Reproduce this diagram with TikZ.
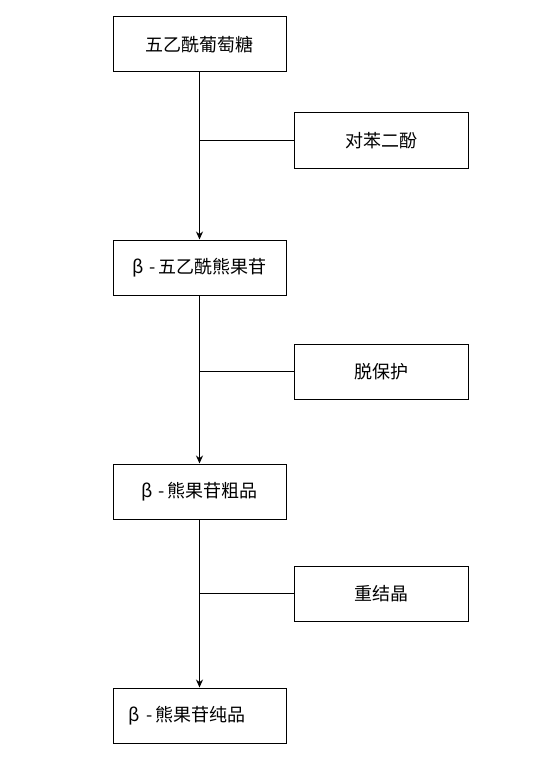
\documentclass[tikz,border=0pt]{standalone}
\usepackage{fontspec}
\newfontfamily\cjk{Noto Sans CJK SC}
\usetikzlibrary{arrows.meta}
\newcommand{\bdash}{β\hspace{6pt}-\hspace{3pt}}
\begin{document}
\begin{tikzpicture}[x=1pt,y=-1pt,
  mainbox/.style={draw,line width=1pt,minimum width=173pt,minimum height=55pt,inner sep=0pt,font=\cjk\fontsize{18}{20}\selectfont},
  sidebox/.style={mainbox,minimum width=174pt},
  flow/.style={line width=1pt,-{Stealth[length=8pt,width=7pt]}},
  branch/.style={line width=1pt}]
\useasboundingbox (0,0) rectangle (540,757);
\node[mainbox] (b1) at (199.5,44.5) {五乙酰葡萄糖};
\node[mainbox] (b2) at (199.5,267.5) {\bdash 五乙酰熊果苷};
\node[mainbox] (b3) at (199.5,491.5) {\bdash 熊果苷粗品};
\node[mainbox] (b4) at (199.5,715.5) {};
\node[font=\cjk\fontsize{18}{20}\selectfont,inner sep=0pt] (t4) at (187,715.5) {\bdash 熊果苷纯品};
\node[sidebox] (r1) at (381,140.5) {对苯二酚};
\node[sidebox] (r2) at (381,371.5) {脱保护};
\node[sidebox] (r3) at (381,593.5) {重结晶};
\draw[flow] (b1) -- (b2);
\draw[flow] (b2) -- (b3);
\draw[flow] (b3) -- (b4);
\draw[branch] (r1.west) -- (r1.west -| b1.south);
\draw[branch] (r2.west) -- (r2.west -| b2.south);
\draw[branch] (r3.west) -- (r3.west -| b3.south);
\end{tikzpicture}
\end{document}
